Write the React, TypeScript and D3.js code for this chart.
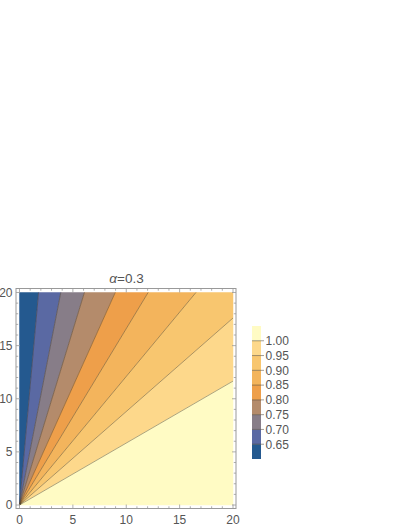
import * as d3 from 'd3'

// contour levels (legend), lowest to highest
const levels = [0.65, 0.7, 0.75, 0.8, 0.85, 0.9, 0.95, 1.0]
// slope (y / x) of each contour ray from the origin
const contourSlopes = [11.2, 5.17, 3.29, 2.23, 1.66, 1.21, 0.88, 0.583]
// band colours, from below 0.65 to above 1.00
const bandColors = ['#24598f', '#5a69a3', '#877d88', '#b48b6b', '#ee9f4a', '#f3b45c', '#f8c66f', '#fdd88b', '#fffbc4']
const xTicks = [0, 5, 10, 15, 20]
const yTicks = [0, 5, 10, 15, 20]
const title = 'α=0.3'

const W = 408
const H = 528
const FONT = 'Liberation Sans, Arial, sans-serif'

const x = d3.scaleLinear().domain([0, 20]).range([19.5, 233])
const y = d3.scaleLinear().domain([0, 20]).range([505, 292.5])
const legendY = d3.scaleLinear().domain([0, bandColors.length]).range([459, 326])

// where a ray from the origin leaves the [0,20] square
const edgePoint = (s: number): [number, number] => {
    if (!isFinite(s)) return [0, 20]
    if (s >= 1) return [20 / s, 20]
    return [20, 20 * s]
}

const bandPolygon = (sHi: number, sLo: number) => {
    const pts: [number, number][] = [[0, 0], edgePoint(sLo)]
    if (sLo < 1 && sHi > 1) pts.push([20, 20])
    pts.push(edgePoint(sHi))
    return pts.map(([a, b]) => `${x(a)},${y(b)}`).join(' ')
}

const App = () => {
    const slopesHi = [Infinity, ...contourSlopes]
    const slopesLo = [...contourSlopes, 0]
    const minor = d3.range(0, 21, 1)

    return (
        <svg width={W} height={H} style={{ position: 'absolute', left: 0, top: 0, background: '#fff' }}>
            {/* bands */}
            {bandColors.map((c, i) => (
                <polygon key={i} points={bandPolygon(slopesHi[i], slopesLo[i])} fill={c} stroke={c} strokeWidth={0.5} />
            ))}
            {/* contour lines */}
            {contourSlopes.map((s, i) => {
                const [ex, ey] = edgePoint(s)
                return <line key={i} x1={x(0)} y1={y(0)} x2={x(ex)} y2={y(ey)} stroke='#3a3020' strokeOpacity={0.6} strokeWidth={0.7} />
            })}

            {/* frame */}
            <rect x={16} y={288.5} width={220} height={220} fill='none' stroke='#999' strokeWidth={1} />
            {minor.map(v => {
                const major = v % 5 === 0
                const len = major ? 4 : 2.2
                return (
                    <g key={v} stroke='#999' strokeWidth={0.8}>
                        <line x1={x(v)} x2={x(v)} y1={508.5} y2={508.5 - len} />
                        <line x1={x(v)} x2={x(v)} y1={288.5} y2={288.5 + len} />
                        <line y1={y(v)} y2={y(v)} x1={16} x2={16 + len} />
                        <line y1={y(v)} y2={y(v)} x1={236} x2={236 - len} />
                    </g>
                )
            })}
            {xTicks.map(v => (
                <text key={v} x={x(v)} y={523.5} textAnchor='middle' fontFamily={FONT} fontSize={12} fill='#555'>{v}</text>
            ))}
            {yTicks.map(v => (
                <text key={v} x={12.5} y={y(v) + 4.2} textAnchor='end' fontFamily={FONT} fontSize={12} fill='#555'>{v}</text>
            ))}

            {/* title */}
            <text x={126.5} y={283} textAnchor='middle' fontFamily={FONT} fontSize={13.5} fill='#555'>
                <tspan fontStyle='italic'>{title.slice(0, 1)}</tspan>{title.slice(1)}
            </text>

            {/* legend */}
            {bandColors.map((c, i) => (
                <rect key={i} x={252} y={legendY(i + 1)} width={9} height={legendY(i) - legendY(i + 1)} fill={c} />
            ))}
            {levels.map((lv, i) => (
                <g key={lv}>
                    <line x1={252} x2={264} y1={legendY(i + 1)} y2={legendY(i + 1)} stroke='#3a3020' strokeOpacity={0.6} strokeWidth={0.8} />
                    <text x={265.5} y={legendY(i + 1) + 4.3} fontFamily={FONT} fontSize={12} fill='#555'>{lv.toFixed(2)}</text>
                </g>
            ))}
        </svg>
    )
}

export default App
